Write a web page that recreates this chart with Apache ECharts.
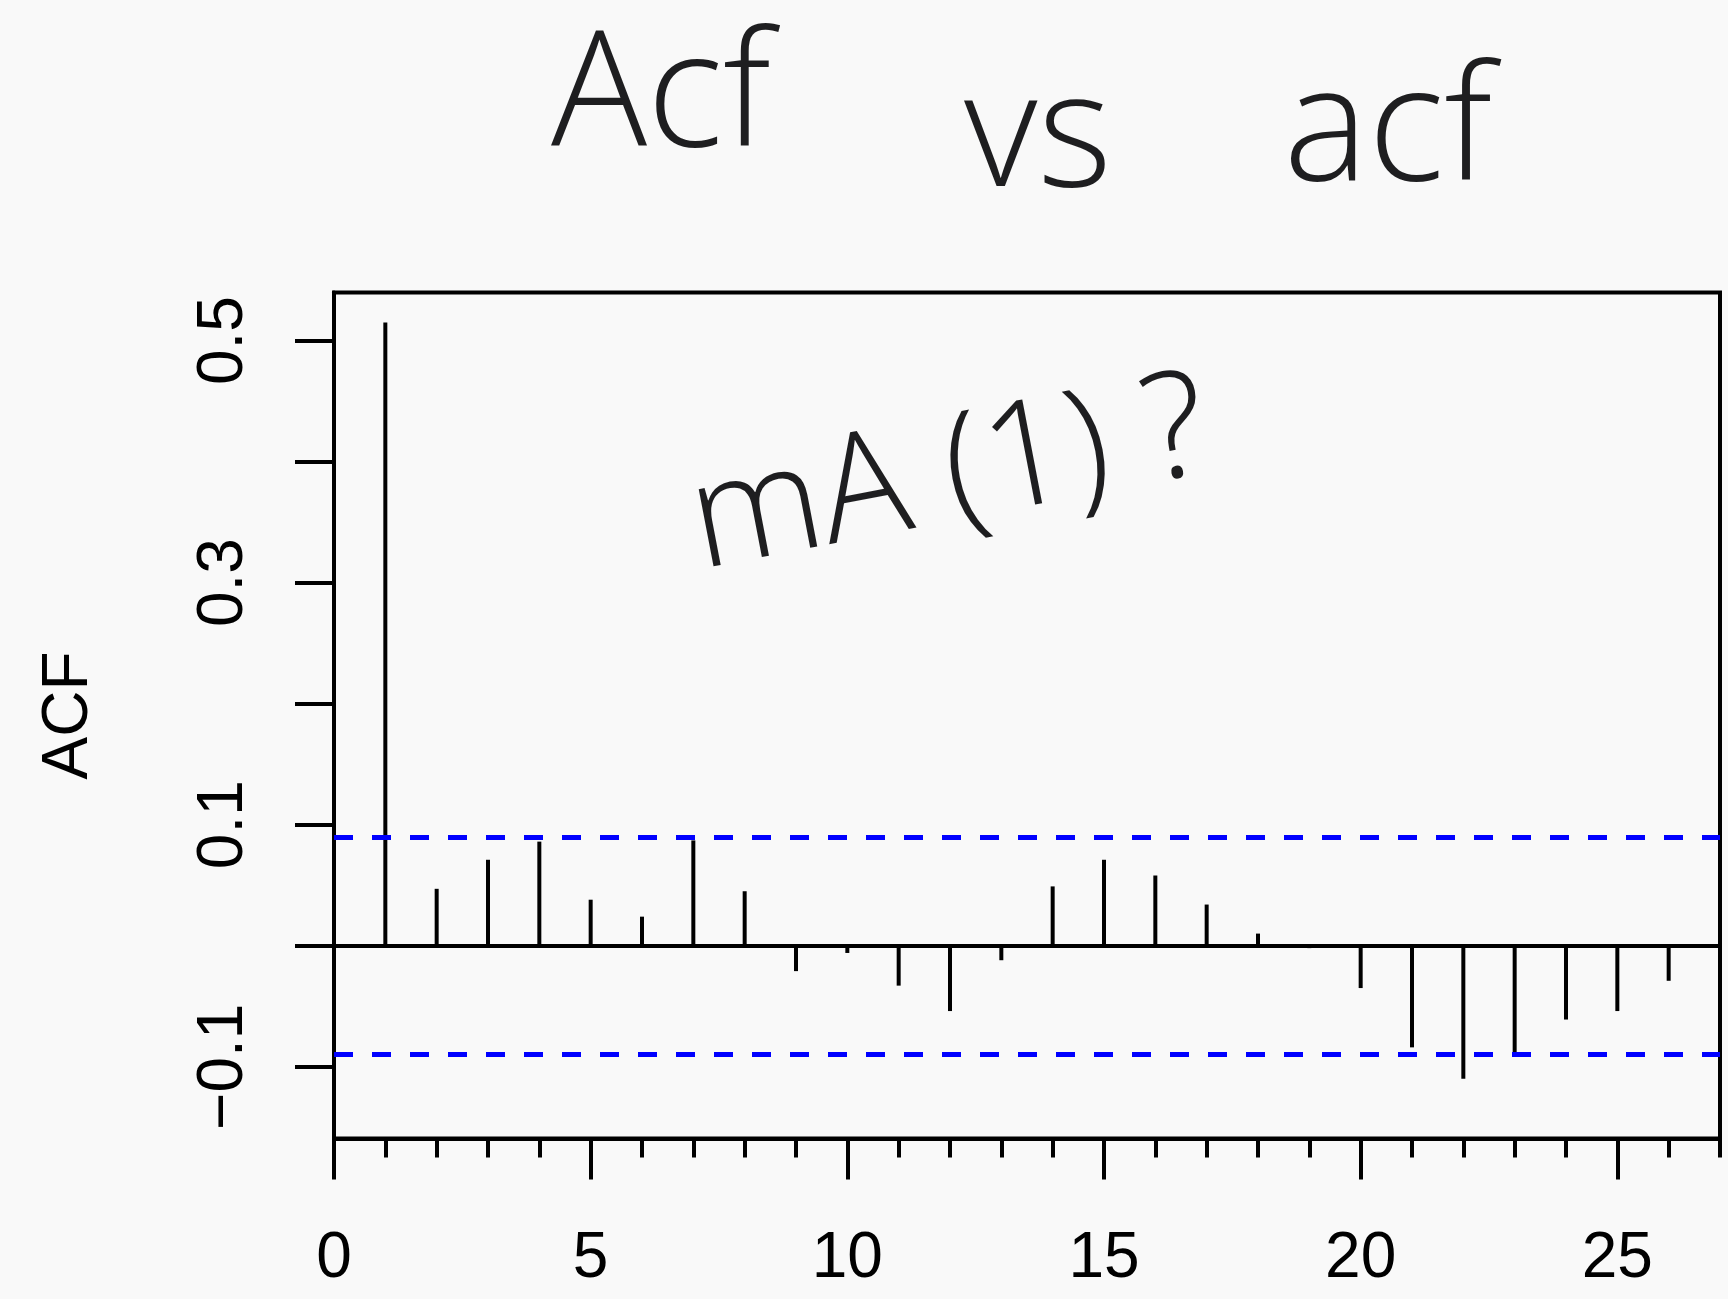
<!DOCTYPE html>
<html>
<head>
<meta charset="utf-8">
<script src="https://cdn.jsdelivr.net/npm/echarts@6/dist/echarts.min.js"></script>
<style>
  html, body { margin: 0; padding: 0; background: #f9f9f9; }
  #chart { width: 1728px; height: 1299px; }
</style>
</head>
<body>
<div id="chart"></div>
<script>
// ---- data ----
const lags = [1, 2, 3, 4, 5, 6, 7, 8, 9, 10, 11, 12, 13, 14, 15, 16, 17, 18, 19, 20, 21, 22, 23, 24, 25, 26];
const acfValues = [0.515, 0.047, 0.071, 0.086, 0.038, 0.024, 0.087, 0.045, -0.021, -0.006, -0.033, -0.054, -0.012, 0.049, 0.071, 0.058, 0.034, 0.010, -0.002, -0.035, -0.084, -0.110, -0.089, -0.061, -0.054, -0.029];
const ciBound = 0.088;
const xMajorTicks = [0, 5, 10, 15, 20, 25];
const xMinorTicks = [0, 1, 2, 3, 4, 5, 6, 7, 8, 9, 10, 11, 12, 13, 14, 15, 16, 17, 18, 19, 20, 21, 22, 23, 24, 25, 26, 27];
const yTicks = [-0.1, 0, 0.1, 0.2, 0.3, 0.4, 0.5];
const yTickLabels = [-0.1, 0.1, 0.3, 0.5];
const titleWords = ['Acf', 'vs', 'acf'];
const noteText = 'mA (1) ?';
const yName = 'ACF';

const chart = echarts.init(document.getElementById('chart'), null, { renderer: 'canvas' });
const FONT = '"Liberation Sans", Arial, Helvetica, sans-serif';
const HAND = '"Open Sans", "Noto Sans", sans-serif';
const fmt = v => (Math.round(v * 10) / 10).toFixed(1).replace('-', '\u2212');
const LW = 4;

const option = {
  backgroundColor: '#f9f9f9',
  animation: false,
  grid: { left: 334, top: 292.5, right: 8, bottom: 160.5, show: true, borderColor: '#000', borderWidth: LW, backgroundColor: 'transparent' },
  xAxis: [
    {
      type: 'value', min: 0, max: 27, position: 'bottom',
      axisLine: { show: true, onZero: false, lineStyle: { color: '#000', width: LW } },
      axisTick: { show: true, customValues: xMinorTicks, length: 19, lineStyle: { color: '#000', width: LW } },
      axisLabel: { show: false },
      splitLine: { show: false }
    },
    {
      type: 'value', min: 0, max: 27, position: 'bottom', gridIndex: 0,
      axisLine: { show: false, onZero: false },
      axisTick: { show: true, customValues: xMajorTicks, length: 41, lineStyle: { color: '#000', width: LW } },
      axisLabel: { show: true, customValues: xMajorTicks, margin: 89, fontSize: 64, fontFamily: FONT, color: '#000' },
      splitLine: { show: false }
    }
  ],
  yAxis: {
    type: 'value', min: -0.1593, max: 0.5397,
    name: yName, nameLocation: 'middle', nameGap: 233, nameRotate: 90,
    nameTextStyle: { fontSize: 64, fontFamily: FONT, color: '#000' },
    axisLine: { show: true, lineStyle: { color: '#000', width: LW } },
    axisTick: { show: true, customValues: yTicks, length: 39, lineStyle: { color: '#000', width: LW } },
    axisLabel: { show: true, customValues: yTickLabels, rotate: 90, margin: 78, fontSize: 64, fontFamily: FONT, color: '#000', formatter: fmt },
    splitLine: { show: false }
  },
  series: [
    {
      type: 'bar',
      xAxisIndex: 0,
      barWidth: LW,
      itemStyle: { color: '#000' },
      data: lags.map((l, i) => [l, acfValues[i]]),
      markLine: {
        silent: true, symbol: 'none', label: { show: false },
        data: [
          { yAxis: 0, lineStyle: { color: '#000', width: LW, type: 'solid' } },
          { yAxis: ciBound, lineStyle: { color: '#0000ff', width: 5, type: [19, 19] } },
          { yAxis: -ciBound, lineStyle: { color: '#0000ff', width: 5, type: [19, 19] } }
        ]
      }
    }
  ],
  graphic: [
    { type: 'text', x: 661, y: 100, style: { text: titleWords[0], font: '300 160px ' + HAND, fill: '#1e1e20', align: 'center', verticalAlign: 'middle' } },
    { type: 'text', x: 1038, y: 140, style: { text: titleWords[1], font: '300 160px ' + HAND, fill: '#1e1e20', align: 'center', verticalAlign: 'middle' } },
    { type: 'text', x: 1388, y: 134, style: { text: titleWords[2], font: '300 160px ' + HAND, fill: '#1e1e20', align: 'center', verticalAlign: 'middle' } },
    { type: 'text', x: 950, y: 478, rotation: 0.19, originX: 0, originY: 0, style: { text: noteText, font: '300 148px ' + HAND, fill: '#1e1e20', align: 'center', verticalAlign: 'middle' } }
  ]
};
chart.setOption(option);
</script>
</body>
</html>
